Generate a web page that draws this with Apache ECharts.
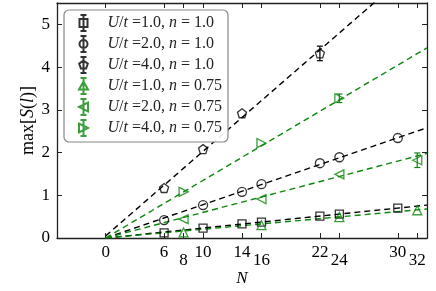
<!DOCTYPE html>
<html><head><meta charset="utf-8">
<script src="https://cdn.jsdelivr.net/npm/echarts@6/dist/echarts.min.js"></script>
<style>html,body{margin:0;padding:0;background:#fff}#c{width:436px;height:291px}</style>
</head><body><div id="c"></div>
<script>
// ---- data ----
const xTicks = [0, 6, 8, 10, 14, 16, 22, 24, 30, 32];
const xTicksLow = [8, 16, 24, 32];
const yTicks = [0, 1, 2, 3, 4, 5];

const N_n1 = [6, 10, 14, 16, 22, 24, 30];
const N_n1_U4 = [6, 10, 14, 22];
const N_n075 = [8, 16, 24, 32];
const N_n075_U4 = [8, 16, 24];

const U1n1 = [0.12, 0.23, 0.33, 0.37, 0.51, 0.56, 0.70];
const U2n1 = [0.42, 0.77, 1.08, 1.26, 1.75, 1.89, 2.34];
const U4n1 = [1.17, 2.08, 2.92, 4.32];
const U1n075 = [0.13, 0.30, 0.49, 0.65];
const U2n075 = [0.44, 0.91, 1.49, 1.82];
const U4n075 = [1.08, 2.22, 3.27];

const errU4n1 = [0, 0, 0, 0.17];
const errU2n075 = [0, 0, 0, 0.17];
const errU4n075 = [0, 0, 0.10];

// fit lines: [N, value] endpoints
const fitU1n1 = [[0, 0.0], [33, 0.77]];
const fitU2n1 = [[0, 0.0], [33, 2.58]];
const fitU4n1 = [[0, 0.05], [33, 6.58]];
const fitU1n075 = [[0, 0.0], [33, 0.68]];
const fitU2n075 = [[0, 0.0], [33, 1.98]];
const fitU4n075 = [[0, 0.0], [33, 4.45]];

const labels = ['U/t =1.0, n = 1.0', 'U/t =2.0, n = 1.0', 'U/t =4.0, n = 1.0',
                'U/t =1.0, n = 0.75', 'U/t =2.0, n = 0.75', 'U/t =4.0, n = 0.75'];
// ---------------------------------------

const BLACK = '#000000', GREEN = '#0b870b';
const BAR = ' M5,0V16 M2,0H8 M2,16H8';
const PENT = 'path://M0,-1L0.951,-0.309L0.588,0.809L-0.588,0.809L-0.951,-0.309Z';
const icons = [
  'path://M1,4H9V12H1Z' + BAR,
  'path://M9,8A4,4 0 1 1 1,8A4,4 0 1 1 9,8Z' + BAR,
  'path://M5,3.5L9.3,6.6L7.6,11.6L2.4,11.6L0.7,6.6Z' + BAR,
  'path://M5,3.5L9.5,11.5L0.5,11.5Z' + BAR,
  'path://M0.5,8L9.5,3.5L9.5,12.5Z' + BAR,
  'path://M9.5,8L0.5,3.5L0.5,12.5Z' + BAR
];

function zip(xs, ys) { return xs.map((x, i) => [x, ys[i]]); }
function zip3(xs, ys, es) { return xs.map((x, i) => [x, ys[i], es[i]]); }

function scatter(name, xs, ys, color, symbol, size, rot) {
  return {
    name, type: 'scatter', data: zip(xs, ys), symbol, symbolSize: size,
    symbolRotate: rot || 0, z: 5,
    itemStyle: { color: 'transparent', borderColor: color, borderWidth: 1.3 },
    emphasis: { disabled: true }
  };
}
function fit(data, color) {
  return {
    type: 'line', data, symbol: 'none', silent: true, z: 3,
    lineStyle: { color, width: 1.4, type: [6, 4] }
  };
}
function errbar(data, color) {
  return {
    type: 'custom', data, z: 6, silent: true,
    renderItem(params, api) {
      const e = api.value(2);
      if (!e) return null;
      const x = api.value(0), y = api.value(1);
      const lo = api.coord([x, y - e]), hi = api.coord([x, y + e]);
      const st = { stroke: color, lineWidth: 1.2 };
      return { type: 'group', children: [
        { type: 'line', shape: { x1: lo[0], y1: lo[1], x2: hi[0], y2: hi[1] }, style: st },
        { type: 'line', shape: { x1: lo[0] - 3, y1: lo[1], x2: lo[0] + 3, y2: lo[1] }, style: st },
        { type: 'line', shape: { x1: hi[0] - 3, y1: hi[1], x2: hi[0] + 3, y2: hi[1] }, style: st }
      ]};
    }
  };
}

function richLabel(s) {
  return s.replace(/([Utn])/g, '{i|$1}');
}

const chart = echarts.init(document.getElementById('c'), null, { renderer: 'canvas' });
const FONT = 'Liberation Serif';
const axisCol = '#222';

chart.setOption({
  animation: false,
  backgroundColor: '#fff',
  grid: { left: 57, right: 9, top: 3, bottom: 53, containLabel: false, outerBoundsMode: 'none' },
  xAxis: [{
    type: 'value', min: -5, max: 33, position: 'bottom',
    name: 'N', nameLocation: 'middle', nameGap: 32, nameMoveOverlap: false,
    nameTextStyle: { fontFamily: FONT, fontSize: 17, fontStyle: 'italic', color: '#000' },
    axisLine: { show: true, onZero: false, lineStyle: { color: axisCol, width: 1.3 } },
    axisTick: { show: true, inside: true, length: 5, customValues: xTicks, lineStyle: { color: axisCol } },
    axisLabel: {
      customValues: xTicks, margin: 6, color: '#000', fontFamily: FONT, fontSize: 17,
      formatter: v => xTicksLow.includes(v) ? '{b|' + v + '}' : '{a|' + v + '}',
      rich: {
        a: { fontFamily: FONT, fontSize: 17, color: '#000' },
        b: { fontFamily: FONT, fontSize: 17, color: '#000', padding: [8, 0, 0, 0] }
      }
    },
    splitLine: { show: false }
  }, {
    type: 'value', min: -5, max: 33, position: 'top',
    axisLine: { show: true, onZero: false, lineStyle: { color: axisCol, width: 1.3 } },
    axisTick: { show: true, inside: true, length: 5, customValues: xTicks, lineStyle: { color: axisCol } },
    axisLabel: { show: false }, splitLine: { show: false }
  }],
  yAxis: [{
    type: 'value', min: 0, max: 5.5, interval: 1, position: 'left',
    name: 'max[{i|S}({i|l})]', nameLocation: 'middle', nameGap: 20, nameRotate: 90, nameMoveOverlap: false,
    nameTextStyle: { fontFamily: FONT, fontSize: 18, color: '#000',
      rich: { i: { fontFamily: FONT, fontSize: 18, fontStyle: 'italic', color: '#000' } } },
    axisLine: { show: true, onZero: false, lineStyle: { color: axisCol, width: 1.3 } },
    axisTick: { show: true, inside: true, length: 5, lineStyle: { color: axisCol } },
    axisLabel: { margin: 7, color: '#000', fontFamily: FONT, fontSize: 17,
      formatter: v => yTicks.includes(v) ? String(v) : '' },
    splitLine: { show: false }
  }, {
    type: 'value', min: 0, max: 5.5, interval: 1, position: 'right',
    axisLine: { show: true, onZero: false, lineStyle: { color: axisCol, width: 1.3 } },
    axisTick: { show: true, inside: true, length: 5, lineStyle: { color: axisCol } },
    axisLabel: { show: false }, splitLine: { show: false }
  }],
  legend: {
    orient: 'vertical', left: 64, top: 10,
    padding: [4, 6, 5, 14], itemGap: 3, itemWidth: 10, itemHeight: 16,
    backgroundColor: 'rgba(255,255,255,0.9)', borderColor: '#888', borderWidth: 1.2, borderRadius: 5,
    textStyle: { fontFamily: FONT, fontSize: 16, lineHeight: 16, color: '#222', padding: [0, 0, 0, 14],
      rich: { i: { fontFamily: FONT, fontSize: 16, lineHeight: 16, fontStyle: 'italic', color: '#222' } } },
    formatter: richLabel,
    selectedMode: false,
    data: labels.map((n, i) => ({ name: n, icon: icons[i] }))
  },
  series: [
    fit(fitU1n1, BLACK), fit(fitU2n1, BLACK), fit(fitU4n1, BLACK),
    fit(fitU1n075, GREEN), fit(fitU2n075, GREEN), fit(fitU4n075, GREEN),
    scatter(labels[0], N_n1, U1n1, BLACK, 'rect', 8),
    scatter(labels[1], N_n1, U2n1, BLACK, 'circle', 9),
    scatter(labels[2], N_n1_U4, U4n1, BLACK, PENT, 9),
    scatter(labels[3], N_n075, U1n075, GREEN, 'triangle', 9, 0),
    scatter(labels[4], N_n075, U2n075, GREEN, 'triangle', 9, 90),
    scatter(labels[5], N_n075_U4, U4n075, GREEN, 'triangle', 9, -90),
    errbar(zip3(N_n1_U4, U4n1, errU4n1), BLACK),
    errbar(zip3(N_n075, U2n075, errU2n075), GREEN),
    errbar(zip3(N_n075_U4, U4n075, errU4n075), GREEN)
  ]
});
</script></body></html>
